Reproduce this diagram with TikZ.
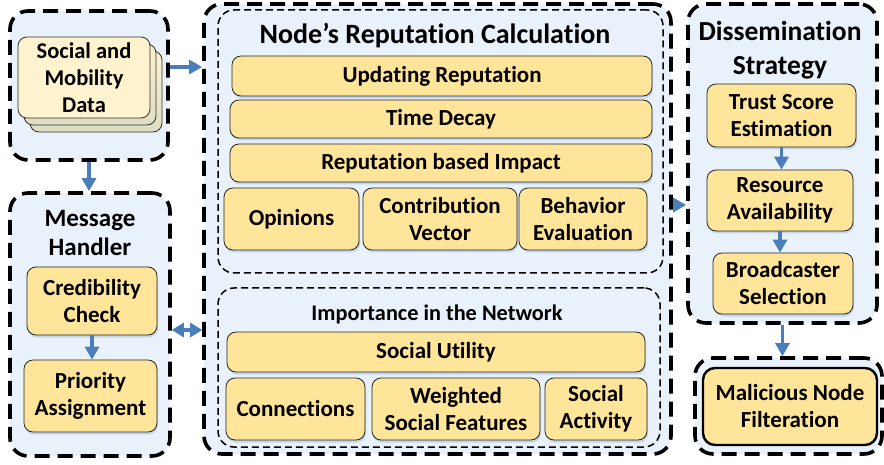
\documentclass[tikz,border=0pt]{standalone}
\usepackage{fontspec}
\setmainfont{Carlito}[Ligatures=NoCommon]
\usetikzlibrary{arrows.meta,shadows}
\definecolor{bgblue}{RGB}{233,241,251}
\definecolor{yfill}{RGB}{255,229,153}
\definecolor{arrowblue}{RGB}{74,126,187}
\definecolor{cream}{RGB}{255,242,206}
\definecolor{creamdark}{RGB}{222,222,196}
\tikzset{
  outerbox/.style={draw=black, line width=3.6pt, dash pattern=on 15pt off 8pt, rounded corners=18pt, fill=bgblue, inner sep=0pt},
  innerbox/.style={draw=black, line width=1.5pt, dash pattern=on 7pt off 4pt, rounded corners=16pt, fill=bgblue, inner sep=0pt},
  yb/.style={draw=black!85, line width=0.8pt, rounded corners=9pt, fill=yfill, inner sep=0pt, align=center,
    font=\fontsize{23}{27}\selectfont\bfseries,
    drop shadow={shadow xshift=1pt, shadow yshift=-2.5pt, fill=arrowblue!40, opacity=0.7}},
  card/.style={draw=black!80, line width=0.8pt, rounded corners=9pt, inner sep=0pt, align=center},
  bigtitle/.style={font=\fontsize{28}{34}\selectfont\bfseries, align=center, inner sep=0pt},
  midtitle/.style={font=\fontsize{25}{29}\selectfont\bfseries, align=center, inner sep=0pt},
  smalltitle/.style={font=\fontsize{22.3}{25}\selectfont\bfseries, align=center, inner sep=0pt},
  arr/.style={draw=arrowblue, line width=3.2pt, -{Triangle[length=13pt,width=14pt]}},
  darr/.style={draw=arrowblue, line width=3.2pt, {Triangle[length=12pt,width=14pt]}-{Triangle[length=12pt,width=14pt]}},
}
\begin{document}
\begin{tikzpicture}[x=1pt,y=-1pt]
\useasboundingbox (0,0) rectangle (884,465);
% outer boxes
\node[outerbox, minimum width=158pt, minimum height=149pt] (datab) at (89,85.5) {};
\node[outerbox, minimum width=160pt, minimum height=263pt] (msgb) at (90,324.5) {};
\node[outerbox, minimum width=467pt, minimum height=450pt] (central) at (437.5,229) {};
\node[outerbox, minimum width=189pt, minimum height=319pt] (dissb) at (782.5,163.5) {};
\node[outerbox, minimum width=187pt, minimum height=96pt] (malb) at (788.5,406) {};
% inner dashed boxes
\node[innerbox, minimum width=445pt, minimum height=263pt] (repb) at (440.5,141.5) {};
\node[innerbox, minimum width=442pt, minimum height=159pt] (impb) at (439,367.5) {};
% stacked data cards
\node[card, top color=cream, bottom color=creamdark, minimum width=132pt, minimum height=81pt] (card3) at (96,91.5) {};
\node[card, top color=cream, bottom color=creamdark, minimum width=132pt, minimum height=81pt] (card2) at (90,84.5) {};
\node[card, fill=cream, minimum width=132pt, minimum height=81pt, font=\fontsize{22.5}{27}\selectfont\bfseries] (card1) at (84,77.5) {Social and\\Mobility\\Data};
% titles
\node[midtitle] (msgt) at (90,233) {Message\\Handler};
\node[bigtitle] (rept) at (435,36) {Node’s Reputation Calculation};
\node[smalltitle] (impt) at (437,314) {Importance in the Network};
\node[font=\fontsize{27.5}{34}\selectfont\bfseries, align=center, inner sep=0pt] (disst) at (780,50) {Dissemination\\Strategy};
% message handler
\node[yb, minimum width=130pt, minimum height=68pt] (cred) at (92,301) {Credibility\\Check};
\node[yb, minimum width=133pt, minimum height=72pt] (prio) at (90.5,396) {Priority\\Assignment};
% reputation
\node[yb, minimum width=420pt, minimum height=40pt] (upd) at (442,76) {Updating Reputation};
\node[yb, minimum width=422pt, minimum height=38pt] (tdec) at (441,119) {Time Decay};
\node[yb, minimum width=422pt, minimum height=38pt] (rbi) at (441,163) {Reputation based Impact};
\node[yb, minimum width=135pt, minimum height=62pt] (opin) at (291.5,219) {Opinions};
\node[yb, minimum width=154pt, minimum height=62pt] (contr) at (440,219) {Contribution\\Vector};
\node[yb, minimum width=128pt, minimum height=62pt] (behav) at (583,219) {Behavior\\Evaluation};
% importance
\node[yb, minimum width=418pt, minimum height=40pt] (sutil) at (436,352) {Social Utility};
\node[yb, minimum width=139pt, minimum height=62pt] (conn) at (295.5,409) {Connections};
\node[yb, minimum width=168pt, minimum height=62pt] (wsf) at (456,409) {Weighted\\Social Features};
\node[yb, minimum width=102pt, minimum height=62pt] (sact) at (596,409) {Social\\Activity};
% dissemination
\node[yb, minimum width=149pt, minimum height=63pt] (trust) at (781.5,115.5) {Trust Score\\Estimation};
\node[yb, minimum width=146pt, minimum height=61pt] (resav) at (780,200.5) {Resource\\Availability};
\node[yb, minimum width=140pt, minimum height=61pt] (bcast) at (783,283.5) {Broadcaster\\Selection};
% malicious
\node[draw=black, line width=2.4pt, rounded corners=12pt, fill=yfill, minimum width=174pt, minimum height=77pt, inner sep=0pt, align=center, font=\fontsize{23}{27}\selectfont\bfseries] (mal) at (790,406.5) {Malicious Node\\Filteration};
% arrows
\draw[arr] ([yshift=18.5pt]datab.east) -- ([yshift=18.5pt]datab.east -| central.west);
\draw[arr] (datab.south) -- (datab.south |- msgb.north);
\draw[darr] ([yshift=-5.5pt]msgb.east) -- ([yshift=-5.5pt]msgb.east -| central.west);
\draw[arr] ([yshift=24pt]central.east) -- ([yshift=24pt]central.east -| dissb.west);
\draw[arr] (cred.south) -- (cred.south |- prio.north);
\draw[arr] (trust.south) -- (trust.south |- resav.north);
\draw[arr] (resav.south) -- (resav.south |- bcast.north);
\draw[arr] (dissb.south) -- (dissb.south |- malb.north);
\end{tikzpicture}
\end{document}
